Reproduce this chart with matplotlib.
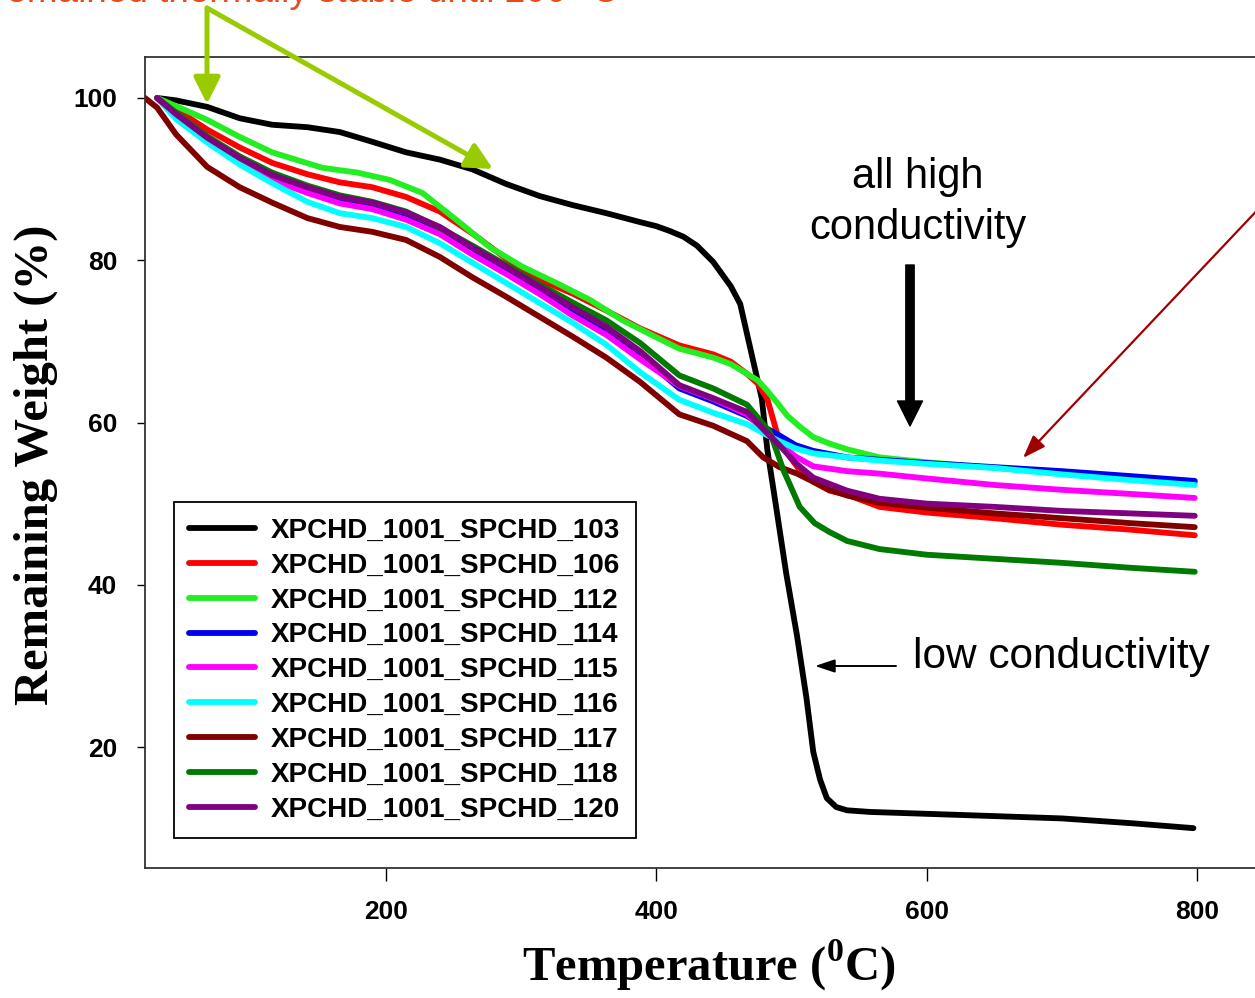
import matplotlib.pyplot as plt

plt.rcParams['font.family'] = ['Liberation Sans', 'DejaVu Sans']
plt.rcParams['mathtext.fontset'] = 'custom'
plt.rcParams['mathtext.rm'] = 'Liberation Serif'
plt.rcParams['mathtext.bf'] = 'Liberation Serif:bold'

# TGA curves, temperature (C) vs remaining weight (%)
t_103 = [31, 45, 68, 92, 116, 142, 166, 190, 215, 240, 264, 289, 314, 338, 363, 388, 400, 410,
         420, 430, 442, 455, 462, 471, 478, 482, 489, 496, 504, 511, 516, 521, 526, 533, 541, 558,
         630, 700, 752, 797]
w_103 = [100, 99.7, 98.9, 97.5, 96.7, 96.4, 95.8, 94.6, 93.3, 92.4, 91.2, 89.4, 87.9, 86.8, 85.8,
         84.7, 84.2, 83.6, 82.9, 81.8, 79.8, 76.8, 74.6, 68.0, 62.9, 56.7, 49.1, 41.4, 33.7, 26.0,
         19.4, 16.0, 13.7, 12.6, 12.2, 12.0, 11.6, 11.2, 10.6, 10.0]

t_106 = [31, 45, 68, 92, 116, 142, 166, 190, 215, 240, 264, 289, 314, 338, 363, 388, 417, 442,
         455, 467, 475, 482, 489, 494, 499, 507, 516, 528, 541, 565, 600, 650, 700, 750, 798]
w_106 = [100, 98.6, 96.1, 93.9, 92.0, 90.6, 89.6, 89.0, 87.8, 86.0, 83.3, 80.2, 77.6, 75.9, 73.8,
         71.6, 69.5, 68.4, 67.5, 66.0, 64.8, 62.9, 58.8, 57.0, 55.7, 53.9, 52.7, 51.6, 51.1, 49.6,
         48.9, 48.2, 47.4, 46.8, 46.1]

t_112 = [31, 45, 68, 92, 116, 153, 179, 203, 227, 252, 277, 301, 326, 351, 375, 400, 417, 442,
         455, 467, 475, 482, 490, 497, 506, 516, 528, 541, 565, 600, 650, 700, 750, 798]
w_112 = [100, 99.0, 97.3, 95.2, 93.3, 91.4, 90.8, 89.9, 88.3, 85.0, 81.6, 79.2, 77.2, 75.1, 72.6,
         70.5, 69.1, 68.0, 67.2, 66.0, 65.2, 63.9, 62.3, 60.8, 59.5, 58.2, 57.4, 56.7, 55.7, 55.1,
         54.4, 53.8, 53.2, 52.6]

t_mid = [31, 45, 68, 92, 116, 142, 166, 190, 215, 240, 264, 289, 314, 338, 363, 388, 417, 442,
         467, 480, 491, 503, 516, 541, 565, 600, 650, 700, 750, 798]
w_114 = [100, 97.8, 94.8, 92.3, 90.2, 88.7, 87.5, 86.8, 85.6, 83.8, 81.3, 78.9, 76.4, 73.9, 71.4,
         68.3, 64.2, 62.6, 60.8, 59.4, 58.4, 57.2, 56.5, 55.7, 55.4, 55.0, 54.5, 54.0, 53.4, 52.8]
w_115 = [100, 97.7, 94.6, 92.0, 89.9, 88.3, 87.0, 86.3, 85.0, 83.2, 80.7, 78.3, 75.8, 73.2, 70.8,
         67.8, 64.5, 62.9, 61.0, 59.0, 57.4, 55.8, 54.6, 54.0, 53.7, 53.1, 52.3, 51.7, 51.2, 50.7]
w_116 = [100, 97.4, 94.5, 91.8, 89.5, 87.2, 85.8, 85.2, 84.1, 82.1, 79.7, 77.2, 74.7, 72.3, 69.6,
         66.2, 62.8, 61.2, 59.8, 58.6, 57.7, 56.8, 56.2, 55.7, 55.3, 54.9, 54.4, 53.6, 52.9, 52.3]
w_120 = [100, 98.0, 95.1, 92.6, 90.5, 89.0, 87.8, 87.1, 85.9, 84.1, 81.6, 79.2, 76.7, 74.2, 71.8,
         68.8, 64.6, 63.0, 61.3, 59.0, 57.2, 55.0, 53.2, 51.6, 50.6, 50.0, 49.6, 49.1, 48.8, 48.5]

t_117 = [22, 31, 45, 68, 92, 116, 142, 166, 190, 215, 240, 264, 289, 314, 338, 363, 388, 417,
         442, 467, 479, 491, 504, 516, 528, 541, 565, 600, 650, 700, 750, 798]
w_117 = [100, 98.8, 95.5, 91.5, 89.0, 87.1, 85.2, 84.1, 83.5, 82.5, 80.4, 77.9, 75.5, 73.0, 70.6,
         68.0, 65.0, 61.0, 59.6, 57.7, 55.7, 54.5, 53.7, 52.7, 51.7, 51.0, 50.1, 49.5, 48.8, 48.2,
         47.6, 47.1]

t_118 = [31, 45, 68, 92, 116, 142, 166, 190, 215, 240, 264, 289, 314, 338, 363, 388, 417, 442,
         467, 484, 494, 506, 517, 528, 541, 565, 600, 650, 700, 750, 798]
w_118 = [100, 98.2, 95.3, 92.8, 90.8, 89.2, 88.0, 87.2, 86.0, 84.0, 81.8, 79.4, 77.0, 74.8, 72.6,
         69.8, 65.8, 64.2, 62.2, 58.8, 54.1, 49.6, 47.6, 46.5, 45.4, 44.4, 43.7, 43.2, 42.7, 42.1,
         41.6]

series = [
    ('XPCHD_1001_SPCHD_103', t_103, w_103, '#000000'),
    ('XPCHD_1001_SPCHD_106', t_106, w_106, '#ff0000'),
    ('XPCHD_1001_SPCHD_112', t_112, w_112, '#22ee22'),
    ('XPCHD_1001_SPCHD_114', t_mid, w_114, '#0000ee'),
    ('XPCHD_1001_SPCHD_115', t_mid, w_115, '#ff00ff'),
    ('XPCHD_1001_SPCHD_116', t_mid, w_116, '#00ffff'),
    ('XPCHD_1001_SPCHD_117', t_117, w_117, '#800000'),
    ('XPCHD_1001_SPCHD_118', t_118, w_118, '#007a00'),
    ('XPCHD_1001_SPCHD_120', t_mid, w_120, '#800080'),
]

fig = plt.figure(figsize=(12.55, 9.98), dpi=100)
ax = fig.add_axes([145 / 1255, 130 / 998, 1155 / 1255, 811 / 998])

for name, t, w, c in series:
    ax.plot(t, w, color=c, lw=4.2, label=name, solid_capstyle='round', solid_joinstyle='round')

ax.set_xlim(22.0, 875.8)
ax.set_ylim(5.09, 105.05)
ax.set_xticks([200, 400, 600, 800])
ax.set_yticks([20, 40, 60, 80, 100])
ax.tick_params(axis='x', direction='out', length=9, width=1, pad=14, labelsize=19)
ax.tick_params(axis='y', direction='out', length=6, width=1, pad=14, labelsize=19)
for lab in ax.get_xticklabels() + ax.get_yticklabels():
    lab.set_fontweight('bold')
for sp in ax.spines.values():
    sp.set_color('#333333')
    sp.set_linewidth(1.3)

ax.set_xlabel(r'Temperature ($^{\mathbf{0}}$C)', family='Liberation Serif',
              fontweight='bold', fontsize=35)
ax.xaxis.set_label_coords(0.488, -0.086)
ax.set_ylabel('Remaining Weight (%)', family='Liberation Serif', fontweight='bold', fontsize=35)
ax.yaxis.set_label_coords(-0.075, 0.497)

leg = ax.legend(loc='lower left', bbox_to_anchor=(174 / 1255, 160 / 998),
                bbox_transform=fig.transFigure, borderaxespad=0, fancybox=False, framealpha=1,
                edgecolor='black', prop={'family': 'Liberation Sans', 'weight': 'bold', 'size': 20},
                handlelength=2.35, labelspacing=0.32, borderpad=0.55, handletextpad=0.6)
leg.get_frame().set_linewidth(1.3)

H = 998
# annotations
ax.text(918 / 1255, (H - 177) / H, 'all high', transform=fig.transFigure, fontsize=30,
        ha='center', va='center')
ax.text(918 / 1255, (H - 228) / H, 'conductivity', transform=fig.transFigure, fontsize=30,
        ha='center', va='center')
ax.annotate('', xy=(910, H - 426), xycoords='figure pixels', xytext=(910, H - 265),
            arrowprops=dict(arrowstyle='simple,head_width=0.9,head_length=0.9,tail_width=0.3',
                            color='black', mutation_scale=20, shrinkA=0, shrinkB=0))
ax.text(913 / 1255, (H - 657) / H, 'low conductivity', transform=fig.transFigure, fontsize=30.5,
        ha='left', va='center')
ax.annotate('', xy=(815, H - 666), xycoords='figure pixels', xytext=(896, H - 666),
            arrowprops=dict(arrowstyle='-|>,head_length=0.6,head_width=0.2', color='black',
                            lw=1.4, mutation_scale=20, shrinkA=0, shrinkB=0))
ax.annotate('', xy=(1023, H - 458), xycoords='figure pixels', xytext=(1300, H - 165),
            arrowprops=dict(arrowstyle='-|>,head_length=0.7,head_width=0.25', color='#a00000',
                            lw=1.6, mutation_scale=20, shrinkA=0, shrinkB=0))

green = '#99cc00'
ax.annotate('', xy=(207, H - 104), xycoords='figure pixels', xytext=(207, H - 8),
            arrowprops=dict(arrowstyle='-|>,head_length=0.8,head_width=0.4', color=green,
                            lw=3.6, mutation_scale=20, shrinkA=0, shrinkB=0))
ax.annotate('', xy=(493, H - 169), xycoords='figure pixels', xytext=(207, H - 8),
            arrowprops=dict(arrowstyle='-|>,head_length=0.8,head_width=0.4', color=green,
                            lw=3.6, mutation_scale=20, shrinkA=0, shrinkB=0))

# caption running off the top edge, as in the source slide
fig.text(-6 / 1255, (H - 1.5) / H, 'remained thermally stable until 200 \u00b0C', color='#e84a1c',
         fontsize=26.6, ha='left', va='baseline')

fig.savefig('out.png', dpi=100)
